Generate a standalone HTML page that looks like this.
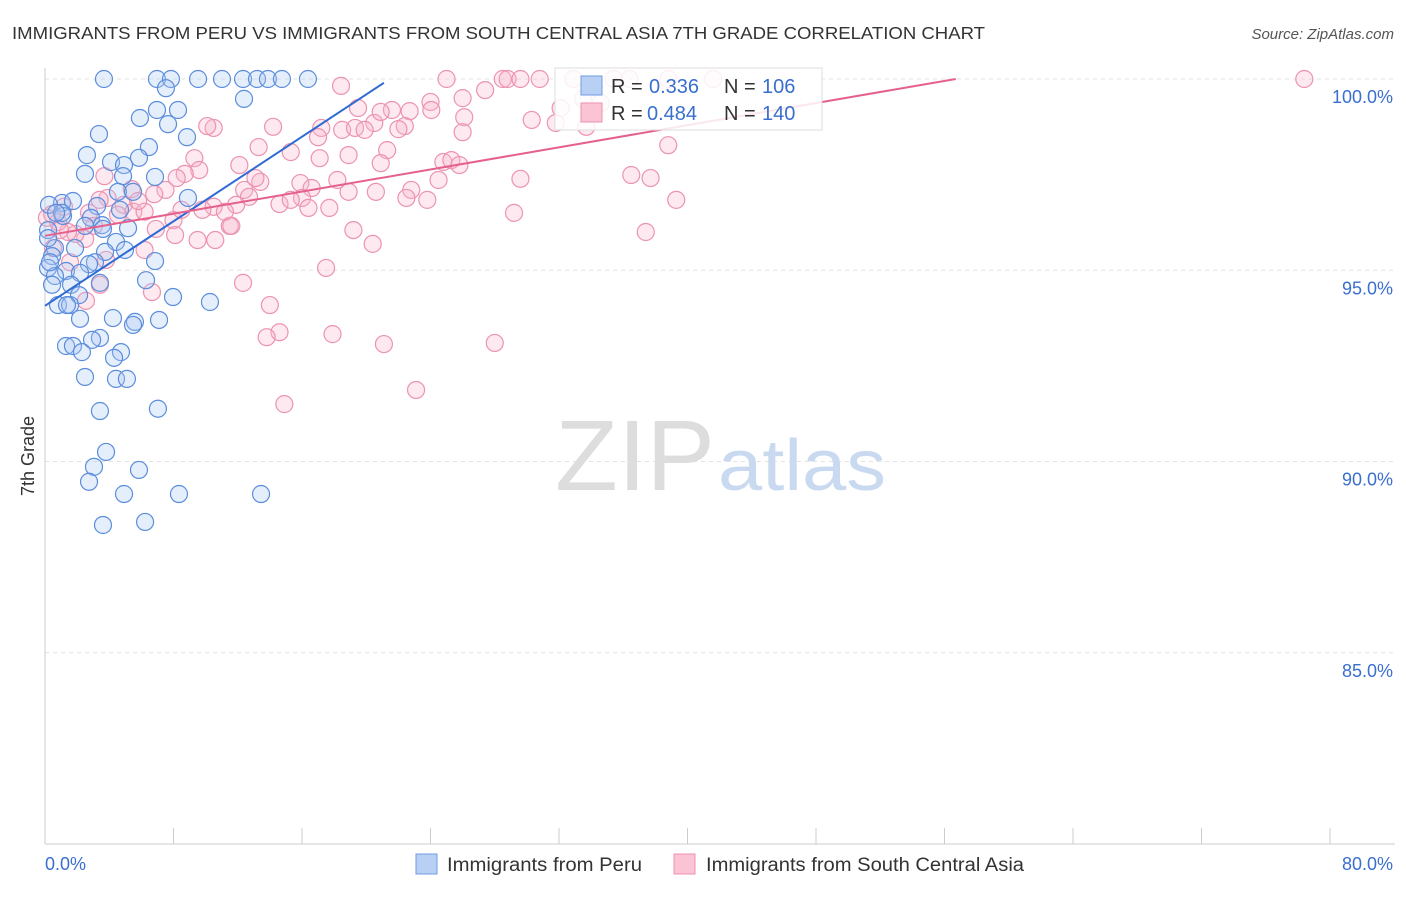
<!DOCTYPE html>
<html><head><meta charset="utf-8"><style>
body{margin:0;background:#fff;font-family:"Liberation Sans",sans-serif;}
svg text{font-family:"Liberation Sans",sans-serif;}
</style></head><body>
<svg id="chart" width="1406" height="892" xmlns="http://www.w3.org/2000/svg">
<text x="12" y="39" font-size="17.5" fill="#333" textLength="973" lengthAdjust="spacingAndGlyphs">IMMIGRANTS FROM PERU VS IMMIGRANTS FROM SOUTH CENTRAL ASIA 7TH GRADE CORRELATION CHART</text>
<text x="1394" y="39" font-size="15" fill="#555" text-anchor="end" font-style="italic">Source: ZipAtlas.com</text>
<text transform="translate(34,456) rotate(-90)" font-size="18" fill="#333" text-anchor="middle">7th Grade</text>
<g id="grid"></g>
<g id="watermark">
<text x="555" y="490" font-size="100" fill="#ddd" font-family="Liberation Serif" textLength="160" lengthAdjust="spacingAndGlyphs">ZIP</text>
<text x="718" y="490" font-size="72" fill="#c9daf0" textLength="168" lengthAdjust="spacingAndGlyphs">atlas</text>
</g>
<g id="points"></g>
<g id="trends"></g>
<g>
<rect x="555" y="68" width="267" height="62" fill="#fff" fill-opacity="0.85" stroke="#ddd"/>
<rect x="581" y="76" width="21" height="19" fill="#b9d0f5" stroke="#6f9be0"/>
<rect x="581" y="103" width="21" height="19" fill="#fbc4d4" stroke="#ee8fae"/>
<text x="611" y="93" font-size="20" fill="#333">R =</text>
<text x="649" y="93" font-size="20" fill="#3a6fcf">0.336</text>
<text x="724" y="93" font-size="20" fill="#333">N =</text>
<text x="762" y="93" font-size="20" fill="#3a6fcf">106</text>
<text x="611" y="120" font-size="20" fill="#333">R =</text>
<text x="647" y="120" font-size="20" fill="#3a6fcf">0.484</text>
<text x="724" y="120" font-size="20" fill="#333">N =</text>
<text x="762" y="120" font-size="20" fill="#3a6fcf">140</text>
</g>
<g>
<rect x="416" y="854" width="21" height="20" fill="#b9d0f5" stroke="#6f9be0"/>
<text x="447" y="871" font-size="19" fill="#333" textLength="195" lengthAdjust="spacingAndGlyphs">Immigrants from Peru</text>
<rect x="674" y="854" width="21" height="20" fill="#fbc4d4" stroke="#ee8fae"/>
<text x="706" y="871" font-size="19" fill="#333" textLength="318" lengthAdjust="spacingAndGlyphs">Immigrants from South Central Asia</text>
</g>
</svg>
<script>
const yTicks=[100,95,90,85];
const yTickLabels=["100.0%","95.0%","90.0%","85.0%"];
const xTickLabels=["0.0%","80.0%"];
const peruX=[3.67,6.97,7.84,9.53,11.02,12.33,13.2,13.88,14.75,16.37,7.53,6.97,8.28,12.39,5.91,7.66,3.36,8.84,6.47,2.61,4.11,5.85,4.92,2.49,4.86,6.85,4.54,5.48,8.9,1.06,1.74,0.25,3.24,1.12,2.86,3.55,5.17,2.49,0.19,4.42,4.98,0.62,1.87,3.74,0.44,6.85,3.11,2.74,0.19,1.31,2.18,0.62,6.29,3.42,1.62,0.44,2.12,7.97,10.27,0.81,1.56,2.18,4.23,5.6,7.1,5.48,3.42,2.93,1.31,1.74,2.3,4.73,4.3,2.49,4.42,5.1,3.42,7.03,3.8,3.05,5.85,2.74,4.92,8.34,13.45,3.61,6.23,1.06,0.69,0.19,0.31,4.67,3.61,1.37];
const peruY=[100,100,100,100,100,100,100,100,100,100,99.76,99.19,99.19,99.48,98.98,98.82,98.56,98.48,98.22,98.01,97.83,97.94,97.75,97.52,97.46,97.44,97.05,97.05,96.89,96.76,96.81,96.71,96.68,96.42,96.37,96.18,96.1,96.16,96.05,95.74,95.53,95.58,95.58,95.48,95.37,95.24,95.21,95.16,95.06,94.98,94.93,94.85,94.74,94.67,94.62,94.62,94.35,94.3,94.17,94.09,94.09,93.73,93.75,93.65,93.7,93.57,93.23,93.18,93.02,93.02,92.86,92.86,92.71,92.21,92.16,92.16,91.32,91.38,90.25,89.86,89.78,89.47,89.15,89.15,89.15,88.34,88.42,96.5,96.5,95.84,95.21,96.58,96.08,94.09];
const scaX=[18.43,19.49,21.6,20.5,25.0,26.0,27.4,28.5,28.8,29.6,30.8,32.9,24.0,26.1,30.3,31.8,33.7,26.0,24.05,22.7,20.9,22.4,22.0,18.5,19.3,19.9,17.2,17.0,14.2,10.5,10.1,13.3,15.3,17.1,18.9,21.3,20.9,24.8,25.3,25.8,24.5,22.8,22.5,23.8,20.6,18.9,15.9,16.6,16.0,14.6,13.4,13.1,12.1,12.4,12.7,11.9,10.5,9.3,9.6,8.7,8.2,7.5,6.8,5.4,4.9,3.9,3.4,3.7,5.5,6.2,6.9,8.0,8.5,9.5,10.6,11.5,11.6,11.2,9.8,6.2,3.8,2.5,1.9,1.43,0.81,0.44,0.12,0.93,0.5,1.56,3.42,2.55,6.66,12.33,14.0,14.6,13.8,17.9,21.1,28.0,23.1,14.9,17.5,19.2,20.4,17.7,16.4,29.2,37.4,39.3,36.5,37.7,38.8,29.6,35.4,36.4,38.8,41.6,78.4,34.6,33.5,32.1,2.74,3.05,4.54,1.18,5.8,8.1,15.3,18.2];
const scaY=[99.82,99.24,99.19,98.85,100,99.5,99.71,100,100,100,100,100,99.4,99.0,98.93,98.85,98.75,98.61,99.19,99.16,99.14,98.77,98.69,98.67,98.72,98.67,98.72,98.48,98.75,98.72,98.77,98.22,98.09,97.93,98.01,98.14,97.8,97.83,97.88,97.75,97.36,97.1,96.89,96.84,97.05,97.05,97.28,97.15,96.89,96.73,97.31,97.41,97.75,97.1,96.92,96.71,96.66,97.93,97.62,97.52,97.41,97.1,96.99,97.12,96.71,96.89,96.84,97.46,96.53,96.53,96.08,96.31,96.58,95.79,95.79,96.16,96.16,96.53,96.58,95.53,95.27,95.82,95.95,96.0,96.26,96.47,96.37,96.05,95.58,95.21,94.62,94.2,94.43,94.67,94.09,93.38,93.25,93.33,93.07,93.1,91.87,91.5,95.06,96.05,95.69,96.63,96.63,96.5,96.0,96.84,97.49,97.41,98.27,97.39,100,100,100,100,100,99.37,99.48,99.24,96.5,96.16,96.45,96.66,96.81,95.92,96.84,97.36];
const peruTrend=[[0,94.07],[21.1,99.9]];
const scaTrend=[[0,95.9],[56.7,100]];

const X0=45,X1=1330,Y100=79,Y80=844;
function sx(v){return X0+v/80*(X1-X0);}
function sy(v){return Y100+(100-v)/20*(Y80-Y100);}
const NS="http://www.w3.org/2000/svg";
const grid=document.getElementById('grid');
function mk(tag,attrs,parent){const e=document.createElementNS(NS,tag);for(const k in attrs)e.setAttribute(k,attrs[k]);parent.appendChild(e);return e;}
yTicks.forEach((t,i)=>{
  const l=mk('line',{x1:X0,x2:1395,y1:sy(t),y2:sy(t),stroke:'#e2e2e2','stroke-dasharray':'4,4'},grid);
  
  
  const tx=mk('text',{x:1393,y:sy(t)+24,'font-size':18,fill:'#3a6fcf','text-anchor':'end'},grid);
  tx.textContent=yTickLabels[i];
  
  
});
const ya=mk('line',{x1:X0,x2:X0,y1:68,y2:Y80,stroke:'#ccc'},grid);


const xa=mk('line',{x1:X0,x2:1395,y1:Y80,y2:Y80,stroke:'#ccc'},grid);


for(let i=0;i<=10;i++){
  const t=mk('line',{x1:sx(i*8),x2:sx(i*8),y1:828,y2:Y80,stroke:'#ccc'},grid);
  
  
}
const xl0=mk('text',{x:45,y:870,'font-size':18,fill:'#3a6fcf'},grid);xl0.textContent=xTickLabels[0];


const xl1=mk('text',{x:1393,y:870,'font-size':18,fill:'#3a6fcf','text-anchor':'end'},grid);xl1.textContent=xTickLabels[1];



const pts=document.getElementById('points');
scaX.forEach((x,i)=>{
  const c=mk('circle',{cx:sx(x),cy:sy(scaY[i]),r:8.5,fill:'#f8b7cb','fill-opacity':0.3,stroke:'#ec93b0','stroke-width':1.2},pts);
  
  
});
peruX.forEach((x,i)=>{
  const c=mk('circle',{cx:sx(x),cy:sy(peruY[i]),r:8.5,fill:'#a9c6f2','fill-opacity':0.3,stroke:'#5b8ddd','stroke-width':1.2},pts);
  
  
});
const tr=document.getElementById('trends');
const l1=mk('line',{x1:sx(peruTrend[0][0]),y1:sy(peruTrend[0][1]),x2:sx(peruTrend[1][0]),y2:sy(peruTrend[1][1]),stroke:'#2f6bd4','stroke-width':2},tr);


const l2=mk('line',{x1:sx(scaTrend[0][0]),y1:sy(scaTrend[0][1]),x2:sx(scaTrend[1][0]),y2:sy(scaTrend[1][1]),stroke:'#e5608c','stroke-width':2},tr);


</script>
</body></html>
